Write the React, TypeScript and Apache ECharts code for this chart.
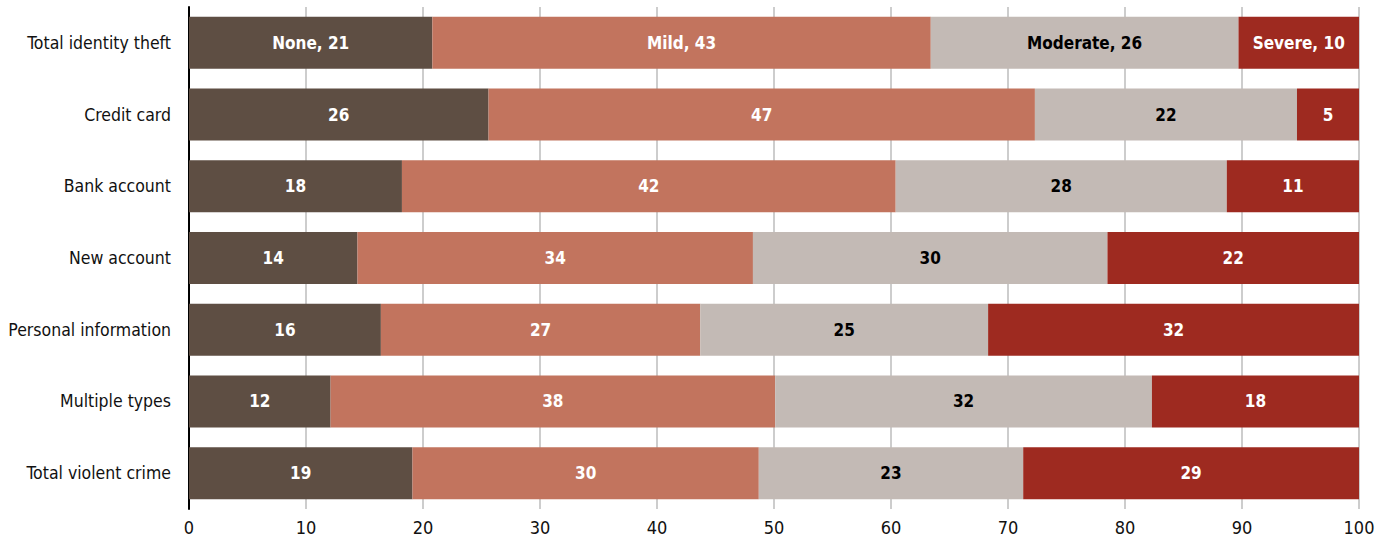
import React, { useEffect, useRef } from "react";
import * as echarts from "echarts";

const categories = [
  "Total identity theft",
  "Credit card",
  "Bank account",
  "New account",
  "Personal information",
  "Multiple types",
  "Total violent crime",
];
const seriesNames = ["None", "Mild", "Moderate", "Severe"];
const noneValues = [20.8, 25.6, 18.2, 14.4, 16.4, 12.1, 19.1];
const mildValues = [42.6, 46.7, 42.2, 33.8, 27.3, 38.0, 29.6];
const moderateValues = [26.3, 22.4, 28.3, 30.3, 24.6, 32.2, 22.6];
const severeValues = [10.3, 5.3, 11.4, 21.5, 31.7, 17.7, 28.7];
const xTicks = [0, 10, 20, 30, 40, 50, 60, 70, 80, 90, 100];

const colors = ["#5e4e43", "#c2745e", "#c3bab5", "#9e2a20"];
const labelColors = ["#ffffff", "#ffffff", "#000000", "#ffffff"];
const FONT = "'DejaVu Sans Condensed', 'Liberation Sans Narrow', sans-serif";

export default function App() {
  const ref = useRef<HTMLDivElement>(null);
  useEffect(() => {
    if (!ref.current) return;
    const chart = echarts.init(ref.current, null, { renderer: "svg" });
    const allValues = [noneValues, mildValues, moderateValues, severeValues];
    chart.setOption({
      animation: false,
      grid: { left: 189, right: 29, top: 7, bottom: 35, containLabel: false },
      xAxis: {
        type: "value",
        min: xTicks[0],
        max: xTicks[xTicks.length - 1],
        interval: 10,
        axisLine: { show: false },
        axisTick: { show: false },
        axisLabel: {
          color: "#111",
          fontFamily: FONT,
          fontSize: 18,
          margin: 9,
        },
        splitLine: { show: true, lineStyle: { color: "#bdbdbd", width: 1.5 } },
      },
      yAxis: {
        type: "category",
        data: categories,
        inverse: true,
        axisLine: { show: true, lineStyle: { color: "#000", width: 2 } },
        axisTick: { show: false },
        axisLabel: {
          color: "#111",
          fontFamily: FONT,
          fontSize: 17.5,
          margin: 18,
        },
        splitLine: { show: false },
      },
      series: seriesNames.map((name, si) => ({
        name,
        type: "bar",
        stack: "total",
        barWidth: 52,
        data: allValues[si],
        itemStyle: { color: colors[si] },
        label: {
          show: true,
          position: "inside",
          color: labelColors[si],
          fontFamily: FONT,
          fontWeight: "bold",
          fontSize: 17,
          formatter: (p: any) =>
            p.dataIndex === 0
              ? `${name}, ${Math.round(p.value)}`
              : `${Math.round(p.value)}`,
        },
      })),
    });
    return () => chart.dispose();
  }, []);
  return (
    <div
      ref={ref}
      style={{ position: "absolute", left: 0, top: 0, width: 1388, height: 544 }}
    />
  );
}
